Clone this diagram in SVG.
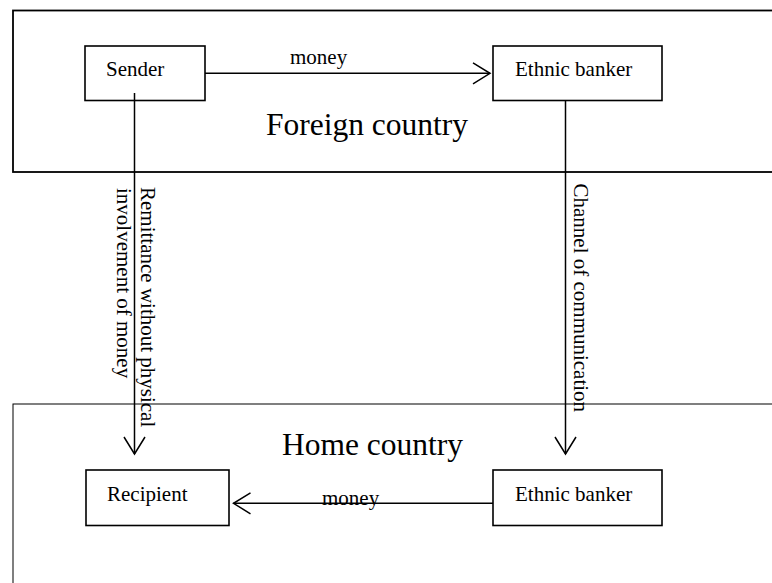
<svg xmlns="http://www.w3.org/2000/svg" width="772" height="583" viewBox="0 0 772 583">
<style>
  .region{fill:none;stroke:#000;}
  .box{fill:#fff;stroke:#000;stroke-width:1.6;}
  .lbl{font-family:"Liberation Serif","Times New Roman",serif;font-size:21px;fill:#000;}
  .big{font-family:"Liberation Serif","Times New Roman",serif;font-size:31.5px;fill:#000;}
  .conn{fill:none;stroke:#000;stroke-width:1.5;}
</style>
<defs>
  <marker id="arr" markerUnits="userSpaceOnUse" viewBox="-19 -13 21 26" refX="0" refY="0" markerWidth="21" markerHeight="26" orient="auto">
    <path d="M-17,-10.5 L0,0 L-17,10.5" fill="none" stroke="#000" stroke-width="1.5"/>
  </marker>
</defs>
<rect width="772" height="583" fill="#fff"/>
<g id="foreign-country">
  <rect class="region" x="13" y="10.5" width="790" height="161.5" stroke-width="1.8"/>
  <text class="big" x="266" y="135">Foreign country</text>
</g>
<g id="home-country">
  <rect class="region" x="13" y="404" width="790" height="220" stroke-width="1"/>
  <text class="big" x="282" y="455">Home country</text>
</g>
<g id="sender">
  <rect class="box" x="85" y="46" width="120" height="54.5"/>
  <text class="lbl" x="106" y="76">Sender</text>
</g>
<g id="ethnic-banker-foreign">
  <rect class="box" x="493" y="46" width="169" height="54.5"/>
  <text class="lbl" x="515" y="76">Ethnic banker</text>
</g>
<g id="recipient">
  <rect class="box" x="86" y="470" width="143" height="55.5"/>
  <text class="lbl" x="107" y="501">Recipient</text>
</g>
<g id="ethnic-banker-home">
  <rect class="box" x="493" y="470" width="169" height="55.5"/>
  <text class="lbl" x="515" y="501">Ethnic banker</text>
</g>
<g id="connectors">
  <line class="conn" x1="205" y1="73.3" x2="490" y2="73.3" marker-end="url(#arr)"/>
  <text class="lbl" x="290" y="64">money</text>
  <line class="conn" x1="134.5" y1="93" x2="134.5" y2="454" marker-end="url(#arr)"/>
  <text class="lbl" transform="translate(141,187) rotate(90)">Remittance without physical</text>
  <text class="lbl" transform="translate(117,188) rotate(90)">involvement of money</text>
  <line class="conn" x1="565.5" y1="100.5" x2="565.5" y2="454" marker-end="url(#arr)"/>
  <text class="lbl" transform="translate(574,183.5) rotate(90)">Channel of communication</text>
  <line class="conn" x1="493" y1="503.3" x2="233.5" y2="503.3" marker-end="url(#arr)"/>
  <text class="lbl" x="322" y="505">money</text>
</g>
</svg>
